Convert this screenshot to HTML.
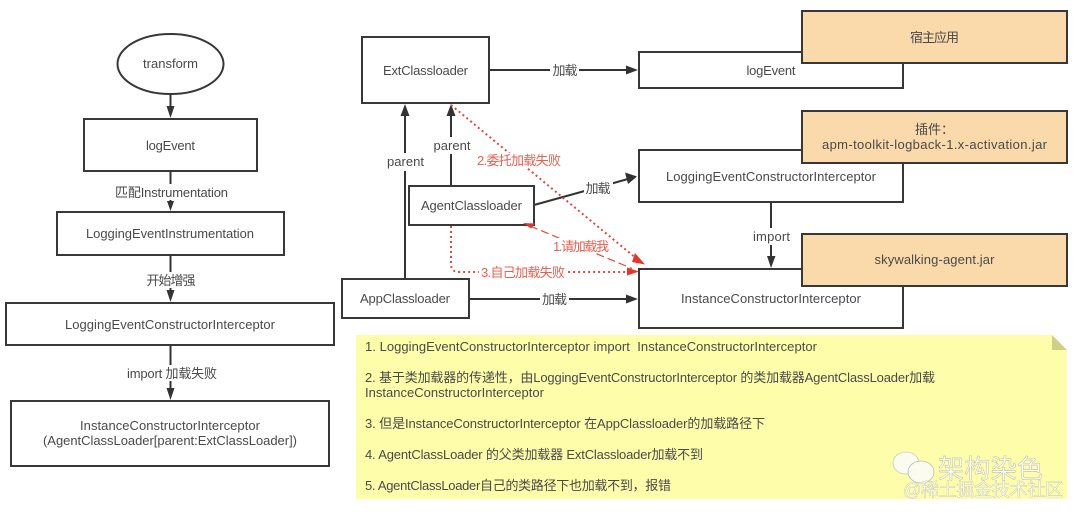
<!DOCTYPE html>
<html>
<head>
<meta charset="utf-8">
<style>
html,body{margin:0;padding:0;background:#fff;width:1080px;height:516px;overflow:hidden}
svg{display:block}
text{font-family:"Liberation Sans","Noto Sans CJK SC",sans-serif;font-size:13px;fill:#4a4a4a;white-space:pre}
.m{text-anchor:middle}
.b{fill:#fff;stroke:#383838;stroke-width:2}
.o{fill:#fad9ab;stroke:#383838;stroke-width:2}
.l{stroke:#333;stroke-width:2;fill:none}
.r{stroke:#e5483a;stroke-width:2;fill:none;stroke-dasharray:2 3}
.d{stroke:#e5483a;stroke-width:1.2;fill:none;stroke-dasharray:8 4}
.a{fill:#333}
.ra{fill:#e5352b}
text.red{fill:#e8604f}
.lb{fill:#fff}
</style>
</head>
<body>
<svg width="1080" height="516" viewBox="0 0 1080 516" xmlns="http://www.w3.org/2000/svg">
<rect width="1080" height="516" fill="#fff"/>

<!-- left column -->
<ellipse cx="170.500" cy="64" rx="53" ry="30" class="b"/>
<text x="170.500" y="68" class="m" textLength="55">transform</text>
<path class="l" d="M170.500 94V108"/>
<path class="a" d="M166.500 106H174.500L170.500 118Z"/>
<rect x="84" y="119" width="173" height="52" class="b"/>
<text x="170.500" y="150" class="m" textLength="49">logEvent</text>
<path class="l" d="M170.500 171V202"/>
<path class="a" d="M167 201H174L170.500 211Z"/>
<rect x="113" y="184" width="116" height="16" class="lb"/>
<text x="171.500" y="197" class="m" textLength="113">匹配Instrumentation</text>
<rect x="57" y="212" width="227" height="43" class="b"/>
<text x="170" y="238" class="m" textLength="168">LoggingEventInstrumentation</text>
<path class="l" d="M170.500 255V293"/>
<path class="a" d="M166.500 290H174.500L170.500 302Z"/>
<rect x="145" y="272" width="52" height="16" class="lb"/>
<text x="171" y="285" class="m" textLength="49">开始增强</text>
<rect x="6" y="303" width="328" height="42" class="b"/>
<text x="170" y="329" class="m" textLength="210">LoggingEventConstructorInterceptor</text>
<path class="l" d="M170.500 345V390"/>
<path class="a" d="M166.500 388H174.500L170.500 400Z"/>
<rect x="125" y="365" width="94" height="16" class="lb"/>
<text x="172" y="378" class="m" textLength="90">import 加载失败</text>
<rect x="11" y="401" width="318" height="65" class="b"/>
<text x="170" y="430" class="m" textLength="180">InstanceConstructorInterceptor</text>
<text x="170" y="445" class="m" textLength="254">(AgentClassLoader[parent:ExtClassLoader])</text>

<!-- right diagram connectors -->
<path class="l" d="M489 70H628"/>
<path class="a" d="M626 65.500L638 70L626 74.500Z"/>
<rect x="550" y="62" width="29" height="17" class="lb"/>
<text x="565" y="75" class="m" textLength="25">加载</text>

<path class="l" d="M405 279V114"/>
<path class="a" d="M400.500 116L405 104L409.500 116Z"/>
<rect x="385" y="153" width="40" height="18" class="lb"/>
<text x="405.500" y="166" class="m" textLength="37">parent</text>

<path class="l" d="M451 186V114"/>
<path class="a" d="M446.500 116L451 104L455.500 116Z"/>
<rect x="432" y="137" width="40" height="17" class="lb"/>
<text x="452" y="150" class="m" textLength="37">parent</text>

<path class="l" d="M534 205L628 179"/>
<path class="a" d="M625 172.500L637 176.500L628 184Z"/>
<rect x="584" y="180" width="29" height="18" class="lb"/>
<text x="598" y="193" class="m" textLength="25">加载</text>

<path class="l" d="M469 299H628"/>
<path class="a" d="M626 294.500L638 299L626 303.500Z"/>
<rect x="540" y="291" width="29" height="17" class="lb"/>
<text x="554.500" y="304" class="m" textLength="25">加载</text>

<path class="l" d="M771 202V258"/>
<path class="a" d="M767 256H775.500L771 268Z"/>
<rect x="752" y="228" width="40" height="17" class="lb"/>
<text x="771.500" y="241" class="m" textLength="37">import</text>

<!-- right boxes -->
<rect x="362" y="37" width="127" height="66" class="b"/>
<text x="425.500" y="75" class="m" textLength="85">ExtClassloader</text>
<rect x="639" y="52" width="264" height="36" class="b"/>
<text x="771" y="75" class="m" textLength="49">logEvent</text>
<rect x="639" y="150" width="264" height="52" class="b"/>
<text x="771" y="181" class="m" textLength="210">LoggingEventConstructorInterceptor</text>
<rect x="639" y="269" width="264" height="59" class="b"/>
<text x="771" y="303" class="m" textLength="180">InstanceConstructorInterceptor</text>
<rect x="409" y="186" width="125" height="39" class="b"/>
<text x="471.500" y="210" class="m" textLength="101">AgentClassloader</text>
<rect x="342" y="279" width="127" height="39" class="b"/>
<text x="405" y="303" class="m" textLength="90">AppClassloader</text>

<rect x="802" y="11" width="265" height="52" class="o"/>
<text x="934.500" y="42" class="m" textLength="49">宿主应用</text>
<rect x="802" y="111" width="265" height="52" class="o"/>
<text x="934.500" y="134" class="m">插件：</text>
<text x="934.500" y="149" class="m" textLength="225">apm-toolkit-logback-1.x-activation.jar</text>
<rect x="802" y="234" width="265" height="52" class="o"/>
<text x="934.500" y="264" class="m" textLength="120">skywalking-agent.jar</text>

<!-- red connectors -->
<path class="r" d="M451 105L637 259"/>
<path class="ra" d="M635 253L645 264.500L632 262Z"/>
<path class="r" d="M451 226V264Q451 272 459 272H628"/>
<path class="ra" d="M627 267.500L639 271.500L627 275.500Z"/>
<path class="d" d="M530 226L632 268.500"/>
<path class="ra" d="M523 223L535 223.500L531 228.500Z"/>
<rect x="476" y="153" width="88" height="15" class="lb"/>
<text x="519" y="165" class="m red" textLength="84">2.委托加载失败</text>
<rect x="551" y="238" width="60" height="15" class="lb"/>
<text x="581" y="251" class="m red" textLength="56">1.请加载我</text>
<rect x="479" y="264" width="88" height="16" class="lb"/>
<text x="523" y="277" class="m red" textLength="84">3.自己加载失败</text>

<!-- note -->
<path d="M356 335H1052L1067 350V499H356Z" fill="#fefda9"/>
<path d="M1052 335L1067 350H1052Z" fill="#cfcf85"/>
<text x="365" y="351" textLength="452">1. LoggingEventConstructorInterceptor import  InstanceConstructorInterceptor</text>
<text x="365" y="382" textLength="570">2. 基于类加载器的传递性，由LoggingEventConstructorInterceptor 的类加载器AgentClassLoader加载</text>
<text x="365" y="397" textLength="179">InstanceConstructorInterceptor</text>
<text x="365" y="428" textLength="400">3. 但是InstanceConstructorInterceptor 在AppClassloader的加载路径下</text>
<text x="365" y="459" textLength="338">4. AgentClassLoader 的父类加载器 ExtClassloader加载不到</text>
<text x="365" y="490" textLength="306">5. AgentClassLoader自己的类路径下也加载不到，报错</text>

<!-- watermark -->
<ellipse cx="906" cy="463" rx="13" ry="11" fill="#fbfbf0" stroke="#ccc" stroke-width="0.8"/>
<ellipse cx="921" cy="472" rx="13" ry="11" fill="#fbfbf0" stroke="#bbb" stroke-width="0.8"/>
<text x="938" y="478" textLength="105" style="font-size:26px;fill:#fffff0;stroke:#aaa;stroke-width:.4">架构染色</text>
<text x="903" y="496" textLength="160" style="font-size:18px;fill:#fffff0;stroke:#aaa;stroke-width:.3">@稀土掘金技术社区</text>
</svg>
</body>
</html>
